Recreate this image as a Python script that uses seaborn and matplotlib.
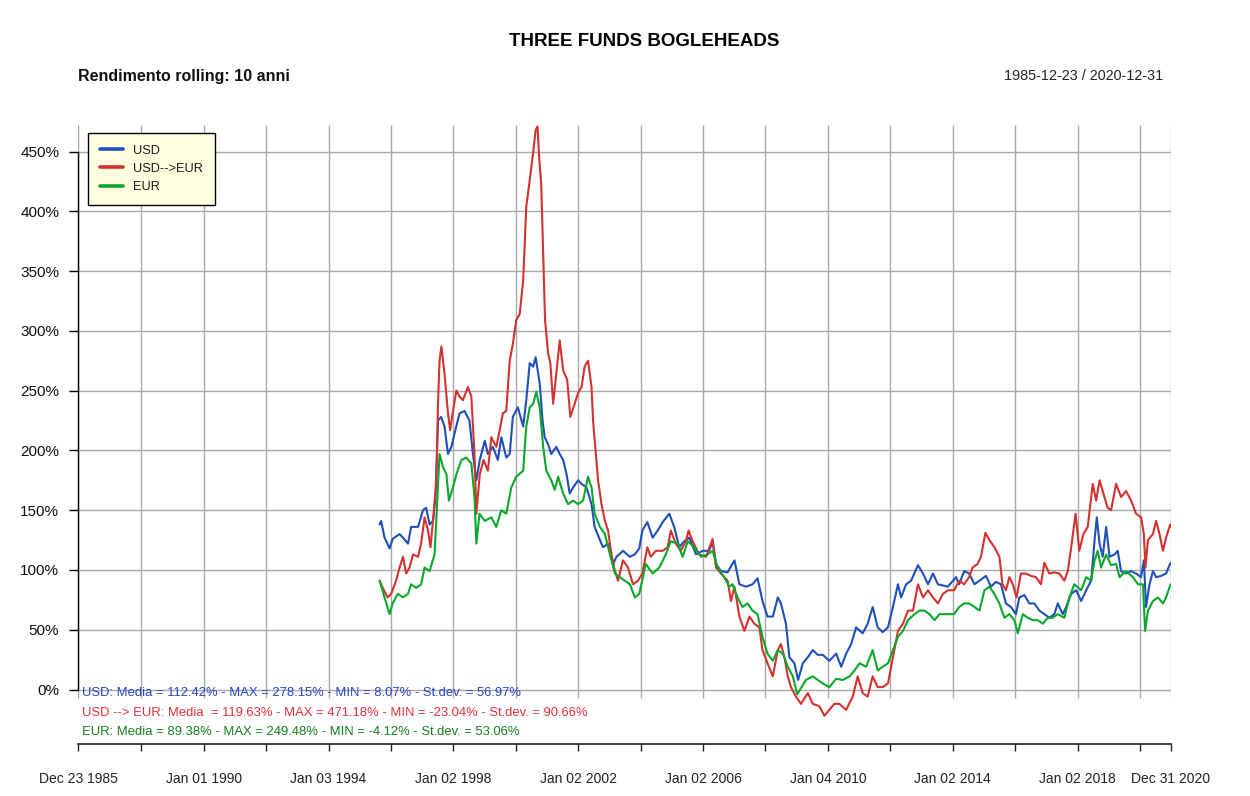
import numpy as np
import pandas as pd
import matplotlib
matplotlib.use("Agg")
import matplotlib.pyplot as plt
import seaborn as sns

# ---------------- data ----------------
usd_years = [1995.64, 1995.69, 1995.80, 1995.96, 1996.06, 1996.28, 1996.39, 1996.55, 1996.65, 1996.87,
             1997.03, 1997.13, 1997.24, 1997.35, 1997.43, 1997.51, 1997.61, 1997.72, 1997.83, 1997.94,
             1998.04, 1998.20, 1998.36, 1998.52, 1998.63, 1998.74, 1998.85, 1999.01, 1999.11, 1999.27,
             1999.43, 1999.54, 1999.70, 1999.81, 1999.91, 2000.07, 2000.24, 2000.34, 2000.45, 2000.56,
             2000.64, 2000.77, 2000.86, 2000.93, 2001.04, 2001.14, 2001.30, 2001.41, 2001.52, 2001.63,
             2001.73, 2001.84, 2002.00, 2002.11, 2002.27, 2002.43, 2002.53, 2002.70, 2002.80, 2002.96,
             2003.12, 2003.23, 2003.44, 2003.66, 2003.82, 2003.96,
             2004.06, 2004.22, 2004.39, 2004.55, 2004.71, 2004.92, 2005.08, 2005.24, 2005.40, 2005.56,
             2005.78, 2005.99, 2006.20, 2006.31, 2006.42, 2006.58, 2006.79, 2007.01, 2007.17, 2007.38,
             2007.59, 2007.75, 2007.91, 2008.07, 2008.24, 2008.40, 2008.50, 2008.66, 2008.77, 2008.93,
             2009.05, 2009.20, 2009.36, 2009.52, 2009.68, 2009.84, 2010.05, 2010.27, 2010.43, 2010.59,
             2010.75, 2010.91, 2011.12, 2011.28, 2011.44, 2011.60, 2011.76, 2011.93, 2012.09, 2012.25,
             2012.35, 2012.51, 2012.67, 2012.89, 2013.05, 2013.21, 2013.37, 2013.53, 2013.69, 2013.85,
             2014.11, 2014.21, 2014.37, 2014.53, 2014.70, 2014.86, 2015.07, 2015.23, 2015.39, 2015.55,
             2015.71, 2015.87, 2016.03, 2016.14, 2016.30, 2016.46, 2016.62, 2016.78, 2016.94, 2017.10,
             2017.26, 2017.37, 2017.53, 2017.64, 2017.80, 2017.96, 2018.12, 2018.28, 2018.44, 2018.55,
             2018.62, 2018.71, 2018.81, 2018.92, 2019.03, 2019.19, 2019.29, 2019.40, 2019.56, 2019.72,
             2019.88, 2020.04, 2020.13, 2020.20, 2020.31, 2020.42, 2020.52, 2020.68, 2020.84, 2020.95,
             2020.99]
usd_values = [138, 141, 127, 118, 126, 130, 127, 122, 136, 136,
              150, 152, 138, 141, 161, 225, 228, 220, 197, 203,
              214, 231, 233, 225, 197, 175, 192, 208, 197, 203,
              192, 211, 194, 197, 228, 236, 220, 242, 273, 270,
              278, 256, 225, 211, 205, 197, 203, 197, 192, 180,
              164, 169, 175, 172, 169, 155, 136, 125, 119, 122,
              105, 111, 116, 111, 113, 118,
              133, 140, 127, 133, 140, 147, 136, 119, 124, 127,
              113, 116, 116, 124, 105, 99, 98, 108, 88, 86,
              88, 93, 74, 61, 61, 77, 72, 55, 27, 22,
              8, 22, 27, 33, 29, 29, 24, 30, 19, 30,
              38, 52, 47, 55, 69, 52, 48, 52, 69, 88,
              77, 88, 91, 104, 97, 88, 97, 88, 87, 86,
              94, 88, 99, 97, 88, 91, 95, 86, 90, 88,
              72, 69, 63, 77, 79, 72, 72, 66, 63, 60,
              63, 72, 63, 69, 80, 83, 74, 83, 91, 125,
              144, 122, 111, 136, 111, 113, 116, 99, 97, 99,
              97, 94, 108, 69, 88, 99, 94, 95, 97, 104,
              106]

usdeur_years = [1995.64, 1995.74, 1995.90, 1996.01, 1996.17, 1996.28, 1996.39, 1996.49, 1996.60, 1996.71,
                1996.87, 1996.97, 1997.08, 1997.19, 1997.27, 1997.37, 1997.46, 1997.51, 1997.56, 1997.62,
                1997.72, 1997.83, 1997.90, 1997.99, 1998.10, 1998.20, 1998.31, 1998.47, 1998.58, 1998.68,
                1998.74, 1998.85, 1998.97, 1999.11, 1999.22, 1999.38, 1999.49, 1999.59, 1999.70, 1999.81,
                1999.91, 2000.02, 2000.13, 2000.24, 2000.34, 2000.45, 2000.56, 2000.64, 2000.70, 2000.75,
                2000.82, 2000.88, 2000.94, 2001.04, 2001.11, 2001.20, 2001.30, 2001.41, 2001.52, 2001.65,
                2001.75, 2001.89, 2002.00, 2002.11, 2002.21, 2002.32, 2002.43, 2002.48, 2002.57, 2002.64,
                2002.75, 2002.86, 2002.96, 2003.07, 2003.18, 2003.28, 2003.44, 2003.60, 2003.76, 2003.92,
                2004.06, 2004.22, 2004.33, 2004.49, 2004.71, 2004.87, 2004.97, 2005.13, 2005.29, 2005.45,
                2005.54, 2005.67, 2005.88, 2006.10, 2006.31, 2006.42, 2006.58, 2006.79, 2006.90, 2007.01,
                2007.17, 2007.33, 2007.49, 2007.65, 2007.81, 2007.91, 2008.07, 2008.24, 2008.40, 2008.50,
                2008.61, 2008.72, 2008.82, 2008.98, 2009.14, 2009.36, 2009.52, 2009.73, 2009.89, 2010.05,
                2010.21, 2010.37, 2010.59, 2010.80, 2010.96, 2011.12, 2011.28, 2011.44, 2011.60, 2011.76,
                2011.93, 2012.09, 2012.25, 2012.41, 2012.57, 2012.73, 2012.89, 2013.05, 2013.21, 2013.37,
                2013.53, 2013.69, 2013.85,
                2014.05, 2014.21, 2014.37, 2014.53, 2014.64, 2014.80, 2014.91, 2015.05, 2015.18, 2015.34,
                2015.50, 2015.60, 2015.71, 2015.82, 2015.93, 2016.05, 2016.19, 2016.35, 2016.51, 2016.67,
                2016.83, 2016.94, 2017.10, 2017.26, 2017.42, 2017.58, 2017.69, 2017.80, 2017.94, 2018.06,
                2018.19, 2018.33, 2018.49, 2018.60, 2018.71, 2018.83, 2018.97, 2019.08, 2019.24, 2019.40,
                2019.56, 2019.72, 2019.88, 2020.04, 2020.13, 2020.18, 2020.26, 2020.42, 2020.52, 2020.63,
                2020.74, 2020.84, 2020.97, 2020.99]
usdeur_values = [91, 85, 77, 80, 91, 102, 111, 97, 102, 113,
                 111, 122, 144, 133, 119, 147, 175, 239, 275, 287,
                 264, 231, 217, 233, 250, 245, 242, 253, 245, 197,
                 147, 180, 192, 183, 211, 203, 217, 231, 233, 275,
                 289, 309, 314, 342, 404, 426, 449, 468, 471, 446,
                 421, 365, 309, 281, 273, 239, 264, 292, 267, 259,
                 228, 239, 248, 253, 270, 275, 253, 225, 197, 175,
                 155, 141, 133, 113, 99, 91, 108, 102, 88, 91,
                 97, 119, 111, 116, 116, 119, 133, 122, 116, 124,
                 133, 124, 113, 111, 126, 102, 97, 91, 74, 86,
                 61, 49, 61, 55, 52, 33, 22, 11, 33, 38,
                 27, 11, 2, -6, -12, -3, -12, -14, -22, -17,
                 -12, -12, -17, -6, 11, -3, -6, 11, 2, 2,
                 5, 27, 49, 55, 66, 66, 88, 77, 83, 77,
                 72, 80, 83,
                 83, 91, 88, 94, 102, 105, 111, 131, 125, 119,
                 111, 88, 83, 94, 88, 77, 97, 97, 95, 94,
                 88, 106, 97, 98, 97, 91, 99, 119, 147, 116,
                 130, 136, 172, 158, 175, 164, 152, 150, 172, 161,
                 166, 158, 147, 144, 130, 102, 125, 130, 141, 130,
                 116, 127, 138, 136]

eur_years = [1995.64, 1995.80, 1995.96, 1996.06, 1996.22, 1996.39, 1996.55, 1996.65, 1996.81, 1996.97,
             1997.08, 1997.24, 1997.40, 1997.48, 1997.56, 1997.67, 1997.78, 1997.86, 1997.99, 1998.10,
             1998.26, 1998.42, 1998.58, 1998.68, 1998.74, 1998.84, 1999.01, 1999.22, 1999.38, 1999.54,
             1999.70, 1999.86, 2000.02, 2000.24, 2000.34, 2000.45, 2000.56, 2000.66, 2000.77, 2000.88,
             2000.98, 2001.14, 2001.25, 2001.36, 2001.52, 2001.68, 2001.84, 2002.00, 2002.16, 2002.32,
             2002.43, 2002.53, 2002.70, 2002.86, 2003.02, 2003.18, 2003.34, 2003.50, 2003.66, 2003.82,
             2003.96,
             2004.17, 2004.39, 2004.60, 2004.81, 2004.97, 2005.19, 2005.35, 2005.51, 2005.72, 2005.94,
             2006.15, 2006.31, 2006.47, 2006.68, 2006.84, 2006.95, 2007.11, 2007.27, 2007.43, 2007.59,
             2007.75, 2007.91, 2008.07, 2008.24, 2008.40, 2008.56, 2008.72, 2008.88, 2009.02, 2009.30,
             2009.52, 2009.68, 2009.84, 2010.05, 2010.27, 2010.48, 2010.70, 2010.86, 2011.02, 2011.23,
             2011.44, 2011.60, 2011.76, 2011.93, 2012.09, 2012.25, 2012.41, 2012.57, 2012.78, 2012.94,
             2013.10, 2013.26, 2013.42, 2013.58, 2013.80,
             2014.05, 2014.21, 2014.37, 2014.53, 2014.70, 2014.86, 2015.02, 2015.18, 2015.34, 2015.50,
             2015.66, 2015.82, 2015.98, 2016.09, 2016.25, 2016.41, 2016.57, 2016.73, 2016.89, 2017.05,
             2017.21, 2017.37, 2017.58, 2017.74, 2017.90, 2018.12, 2018.28, 2018.44, 2018.55, 2018.65,
             2018.76, 2018.92, 2019.08, 2019.24, 2019.35, 2019.56, 2019.78, 2019.94, 2020.10, 2020.17,
             2020.26, 2020.42, 2020.58, 2020.74, 2020.84, 2020.97, 2020.99]
eur_values = [91, 77, 63, 72, 80, 77, 80, 88, 85, 88,
              102, 99, 113, 155, 197, 186, 180, 158, 169, 180,
              192, 194, 189, 161, 122, 147, 141, 144, 136, 150,
              147, 169, 178, 183, 220, 236, 239, 249, 236, 203,
              183, 175, 167, 178, 164, 155, 158, 155, 158, 178,
              169, 147, 136, 130, 113, 97, 94, 91, 88, 77,
              80,
              105, 97, 102, 113, 124, 122, 111, 124, 119, 111,
              113, 116, 102, 94, 86, 88, 77, 69, 72, 66,
              63, 44, 30, 24, 33, 30, 19, 11, -4, 8,
              11, 8, 5, 2, 9, 8, 11, 16, 22, 19,
              33, 16, 19, 22, 33, 44, 49, 58, 63, 66,
              66, 63, 58, 63, 63,
              63, 69, 72, 72, 69, 66, 83, 86, 80, 72,
              60, 63, 58, 47, 63, 60, 58, 58, 55, 60,
              60, 63, 60, 77, 88, 83, 94, 91, 108, 116,
              102, 113, 104, 105, 94, 99, 94, 88, 88, 49,
              66, 74, 77, 72, 77, 87, 88]

series_names = ["USD", "USD-->EUR", "EUR"]
series_colors = ["#1f4fb8", "#d3322f", "#0aa82a"]
stats_texts = [
    "USD: Media = 112.42% - MAX = 278.15% - MIN = 8.07% - St.dev. = 56.97%",
    "USD --> EUR: Media  = 119.63% - MAX = 471.18% - MIN = -23.04% - St.dev. = 90.66%",
    "EUR: Media = 89.38% - MAX = 249.48% - MIN = -4.12% - St.dev. = 53.06%",
]
stats_colors = ["#2446c4", "#e3303a", "#13801c"]

y_ticks = [0, 50, 100, 150, 200, 250, 300, 350, 400, 450]
x_tick_dates = ["1985-12-23", "1988-01-04", "1990-01-01", "1992-01-02", "1994-01-03", "1996-01-02",
                "1998-01-02", "2000-01-03", "2002-01-02", "2004-01-02", "2006-01-02", "2008-01-02",
                "2010-01-04", "2012-01-03", "2014-01-02", "2016-01-04", "2018-01-02", "2020-01-02",
                "2020-12-31"]
x_tick_labels = ["Dec 23 1985", "", "Jan 01 1990", "", "Jan 03 1994", "", "Jan 02 1998", "",
                 "Jan 02 2002", "", "Jan 02 2006", "", "Jan 04 2010", "", "Jan 02 2014", "",
                 "Jan 02 2018", "", "Dec 31 2020"]

title = "THREE FUNDS BOGLEHEADS"
subtitle = "Rendimento rolling: 10 anni"
period = "1985-12-23 / 2020-12-31"


def to_dt(y):
    yr = int(np.floor(y))
    a = pd.Timestamp(yr, 1, 1)
    b = pd.Timestamp(yr + 1, 1, 1)
    return a + (b - a) * (y - yr)


frames = []
for name, yrs, vals in [("USD", usd_years, usd_values),
                        ("USD-->EUR", usdeur_years, usdeur_values),
                        ("EUR", eur_years, eur_values)]:
    frames.append(pd.DataFrame({"date": [to_dt(v) for v in yrs], "value": vals, "series": name}))
df = pd.concat(frames, ignore_index=True)

# ---------------- figure ----------------
sns.set_theme(style="white")
plt.rcParams["font.family"] = ["Liberation Sans", "DejaVu Sans"]

W, H = 1250, 796
fig = plt.figure(figsize=(W / 100, H / 100), dpi=100)
fig.patch.set_facecolor("white")

ax_l, ax_r, ax_t, ax_b = 78, 1171, 125, 744
ax = fig.add_axes([ax_l / W, 1 - ax_b / H, (ax_r - ax_l) / W, (ax_b - ax_t) / H])
ax.set_facecolor("white")

ppu = (689.5 - 151.5) / 450.0
ytop = (689.5 - ax_t) / ppu
ybot = -(ax_b - 689.5) / ppu
xdates = pd.to_datetime(x_tick_dates)
ax.set_xlim(xdates[0], xdates[-1])
ax.set_ylim(ybot, ytop)

grid_c = "#a8a8a8"
grid_low = -(698 - 689.5) / ppu
ax.vlines(xdates, grid_low, ytop, colors=grid_c, linewidth=1.0, zorder=1)
ax.hlines(y_ticks, xdates[0], xdates[-1], colors=grid_c, linewidth=1.0, zorder=1)

sns.lineplot(data=df, x="date", y="value", hue="series", hue_order=series_names,
             palette=dict(zip(series_names, series_colors)), estimator=None, sort=False,
             linewidth=1.5, ax=ax, zorder=3)

# axes decoration
for s in ["top", "right"]:
    ax.spines[s].set_visible(False)
ax.spines["left"].set_bounds(0, 450)
ax.spines["left"].set_color("black")
ax.spines["left"].set_linewidth(1.0)
ax.spines["bottom"].set_color("#222222")
ax.spines["bottom"].set_linewidth(1.2)

ax.set_yticks(y_ticks)
ax.set_yticklabels([f"{v}%" for v in y_ticks])
ax.tick_params(axis="y", direction="out", length=6.5, width=1.0, color="black",
               labelsize=11, pad=7, labelcolor="#111111", left=True)
ax.set_xticks(xdates)
ax.set_xticklabels(x_tick_labels)
ax.tick_params(axis="x", direction="out", length=5, width=1.0, color="#222222",
               labelsize=10, pad=15, labelcolor="#222222", bottom=True)
ax.set_xlabel("")
ax.set_ylabel("")

# legend
handles, labels = ax.get_legend_handles_labels()
leg = ax.legend(handles, labels, loc="upper left", bbox_to_anchor=(10 / (ax_r - ax_l), 1 - 8 / (ax_b - ax_t)),
                borderaxespad=0, frameon=True, fancybox=False, framealpha=1,
                facecolor="#ffffe0", edgecolor="black", fontsize=9.2,
                handlelength=1.8, handletextpad=0.85, labelspacing=0.5, borderpad=0.9)
leg.get_frame().set_linewidth(1.0)
for h in leg.get_lines():
    h.set_linewidth(2.6)
for t in leg.get_texts():
    t.set_color("#1a1a1a")

# stats texts
for i, (txt, col) in enumerate(zip(stats_texts, stats_colors)):
    fig.text(82 / W, 1 - [693, 713, 732][i] / H, txt, color=col, fontsize=9.4,
             ha="left", va="center")

# titles
fig.text(644 / W, 1 - 41 / H, title, ha="center", va="center", fontsize=13.5,
         fontweight="bold", color="black")
fig.text(78 / W, 1 - 76 / H, subtitle, ha="left", va="center", fontsize=11.5,
         fontweight="bold", color="#111111")
fig.text(1163 / W, 1 - 76 / H, period, ha="right", va="center", fontsize=10.4,
         color="#222222")

fig.savefig("out.png", dpi=100, facecolor="white")
